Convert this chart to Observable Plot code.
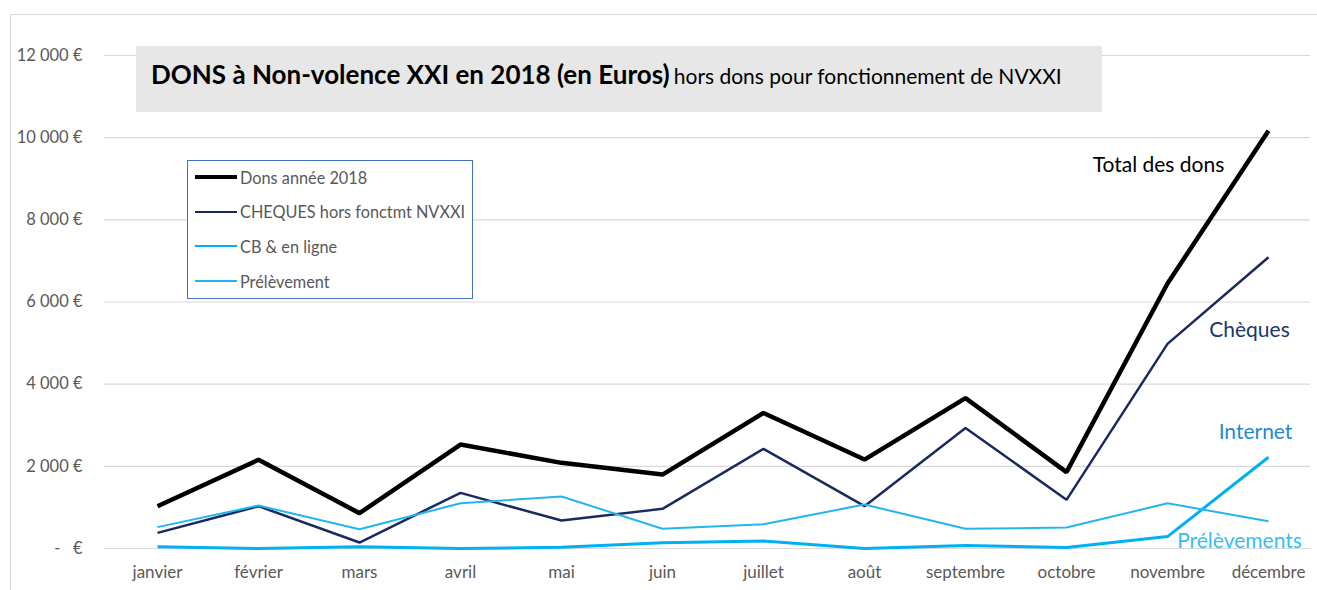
<!DOCTYPE html>
<html>
<head>
<meta charset="utf-8">
<script src="https://cdn.jsdelivr.net/npm/d3@7"></script>
<script src="https://cdn.jsdelivr.net/npm/@observablehq/plot@0.6"></script>
<style>
  body { margin: 0; background: #fff; font-family: Lato, "Open Sans", sans-serif; }
  #wrap { position: relative; width: 1317px; height: 590px; overflow: hidden; }
  #frame { position: absolute; left: 10px; top: 14px; width: 1320px; height: 600px; border: 1px solid #d9d9d9; box-sizing: border-box; pointer-events: none; }
  #title { position: absolute; left: 136px; top: 46px; width: 966px; height: 66px; background: #e7e7e7; color: #000; }
  #title div { position: absolute; left: 15px; top: 15px; line-height: 1; white-space: nowrap; }
  #title b { font-size: 26px; font-weight: 700; }
  #title span { font-size: 21px; }
  #legend { position: absolute; left: 187px; top: 160px; width: 286px; height: 139px; background: #fff; border: 1.5px solid #4472c4; box-sizing: border-box; }
  .li { position: absolute; left: 7px; height: 20px; display: flex; align-items: center; font-size: 16.3px; color: #595959; white-space: nowrap; }
  .li i { display: inline-block; width: 42px; margin-right: 3px; }
</style>
</head>
<body>
<div id="wrap">
  <div id="chart"></div>
  <div id="frame"></div>
  <div id="title"><div><b>DONS à Non-volence XXI en 2018 (en Euros)</b> <span>hors dons pour fonctionnement de NVXXI</span></div></div>
  <div id="legend"></div>
</div>
<script>
const months = ["janvier","février","mars","avril","mai","juin","juillet","août","septembre","octobre","novembre","décembre"];
const totalDons = [1030, 2160, 860, 2530, 2085, 1800, 3300, 2165, 3660, 1860, 6450, 10170];
const cheques = [380, 1030, 145, 1355, 680, 965, 2425, 1030, 2935, 1185, 4980, 7090];
const cbEnLigne = [40, 0, 40, 0, 30, 140, 180, 0, 75, 25, 290, 2220];
const prelevement = [520, 1045, 470, 1100, 1265, 480, 590, 1070, 480, 510, 1100, 665];
const yTicks = [0, 2000, 4000, 6000, 8000, 10000, 12000];

const seriesNames = ["Dons année 2018", "CHEQUES hors fonctmt NVXXI", "CB & en ligne", "Prélèvement"];
const seriesValues = [totalDons, cheques, cbEnLigne, prelevement];
const seriesColors = ["#000000", "#1a2a5e", "#00b0f0", "#22b6ee"];
const seriesWidths = [4.5, 2.5, 3, 2];
const legendWidths = [3.5, 2.2, 2.2, 1.6];

const endLabels = ["Total des dons", "Chèques", "Internet", "Prélèvements"];
const endLabelColors = ["#000000", "#203864", "#1f8ad6", "#35bff0"];
const endLabelDx = [-110, -19, -13, -29];
const endLabelDy = [35, 73, -25, 20];

const rows = s => months.map((m, i) => ({month: m, value: seriesValues[s][i]}));

const fmt = d => d === 0 ? "-   €" : d3.format(",")(d).replace(/,/g, "\u202f") + " €";

const marks = [
  Plot.ruleY(yTicks, {stroke: "#d9d9d9", strokeWidth: 1.2}),
  Plot.axisY(yTicks, {tickSize: 0, tickPadding: 22, tickFormat: fmt, fontSize: 16.5, color: "#595959"}),
  Plot.axisX({tickSize: 0, tickPadding: 17, fontSize: 17, color: "#595959"})
];
for (let s = 0; s < 4; s++) {
  marks.push(Plot.line(rows(s), {x: "month", y: "value", stroke: seriesColors[s], strokeWidth: seriesWidths[s], strokeLinejoin: "miter", strokeLinecap: "butt"}));
}
for (let s = 0; s < 4; s++) {
  const last = rows(s).slice(-1);
  marks.push(Plot.text(last, {x: "month", y: "value", text: () => endLabels[s], fill: endLabelColors[s], fontSize: 21, dx: endLabelDx[s], dy: endLabelDy[s], textAnchor: "middle"}));
}

const chart = Plot.plot({
  width: 1317,
  height: 590,
  marginLeft: 104,
  marginRight: 7,
  marginTop: 55,
  marginBottom: 42,
  style: {fontFamily: "Lato, 'Open Sans', sans-serif", background: "transparent", overflow: "visible"},
  x: {type: "point", domain: months, range: [154, 1270], padding: 0, label: null},
  y: {domain: [0, 12000], label: null},
  marks
});
document.getElementById("chart").appendChild(chart);

const legend = document.getElementById("legend");
const legendCenters = [17.7, 52.3, 86.7, 121.7];
seriesNames.forEach((n, s) => {
  const d = document.createElement("div");
  d.className = "li";
  d.style.top = (legendCenters[s] - 10 - 1.5) + "px";
  const line = document.createElement("i");
  line.style.height = legendWidths[s] + "px";
  line.style.background = seriesColors[s];
  d.appendChild(line);
  d.appendChild(document.createTextNode(n));
  legend.appendChild(d);
});
</script>
</body>
</html>
